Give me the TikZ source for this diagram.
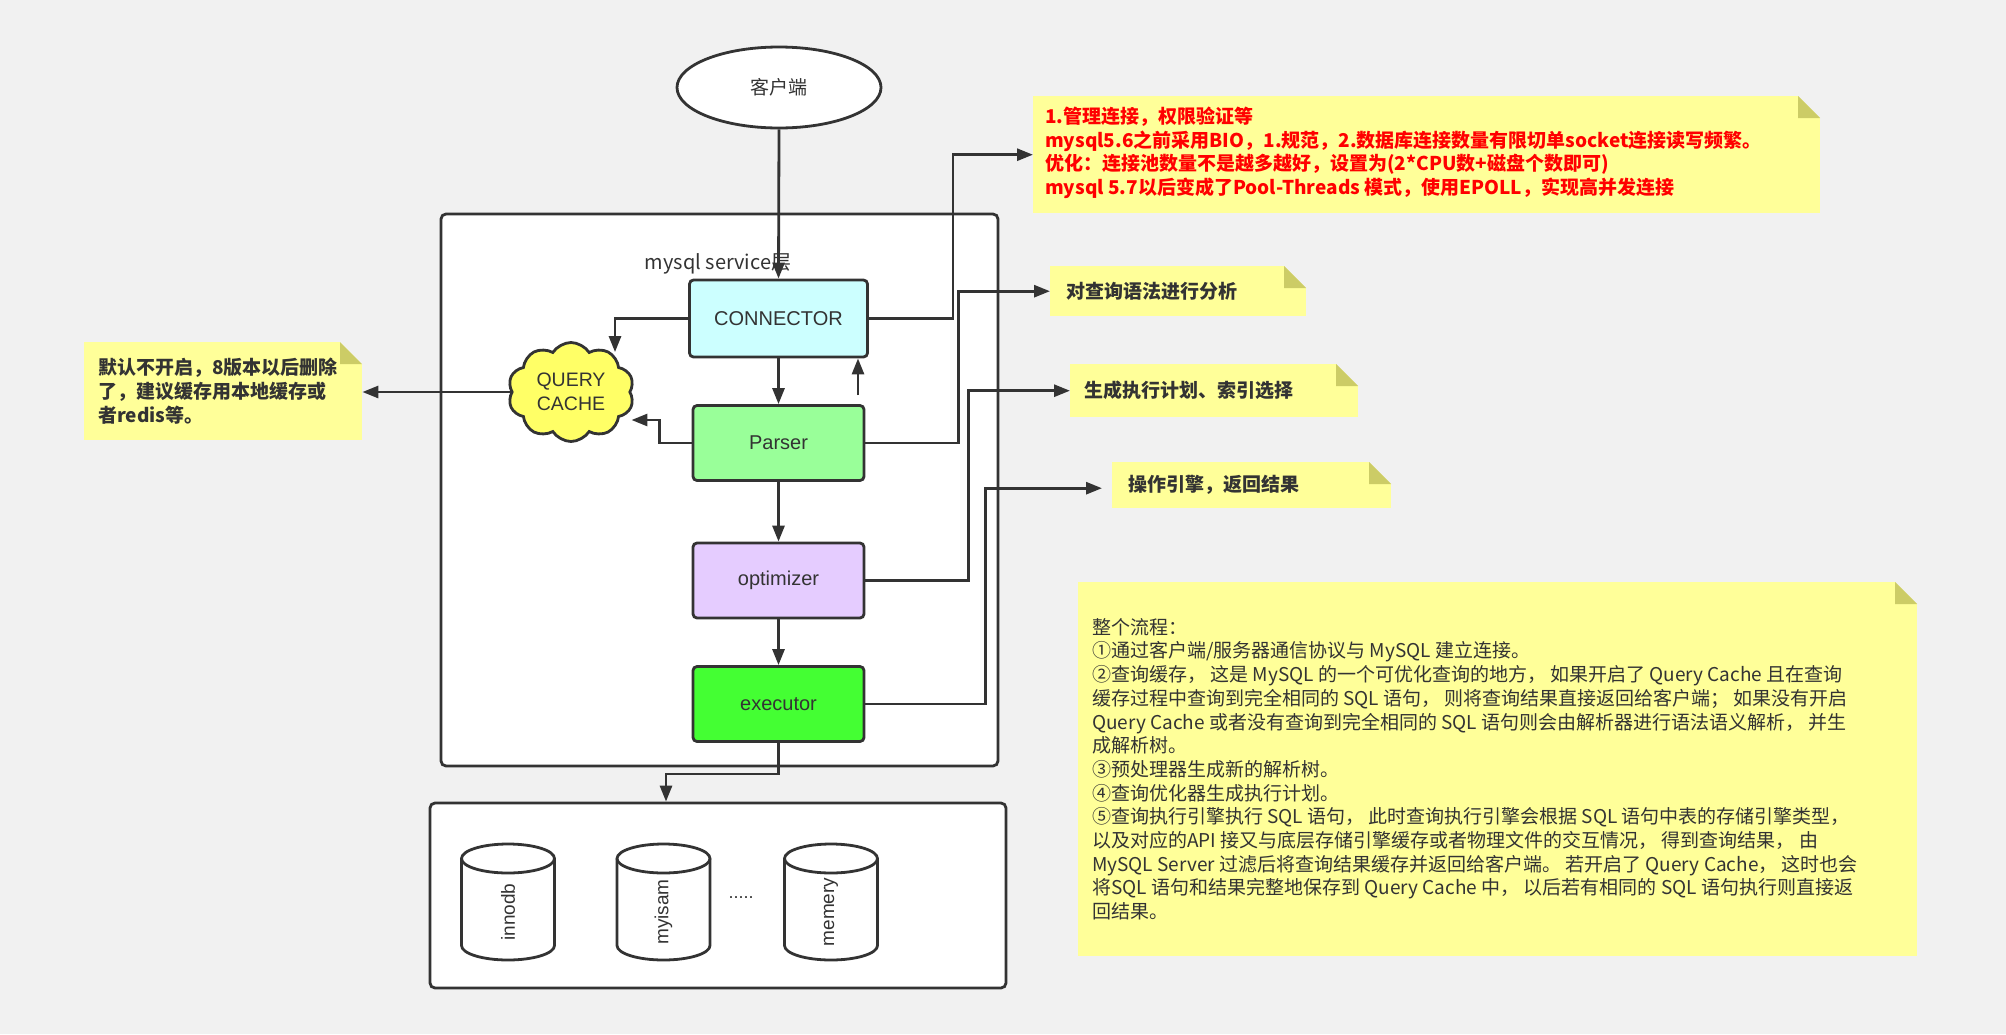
\documentclass[tikz,border=0pt]{standalone}
\usepackage{fontspec}
\setmainfont{Liberation Sans}
\newfontfamily\cjk{Noto Sans CJK SC}
\usetikzlibrary{arrows.meta,shapes.symbols,shapes.geometric,calc}
\definecolor{bgc}{HTML}{F1F1F1}
\definecolor{ink}{HTML}{333333}
\definecolor{noteY}{HTML}{FFFF99}
\definecolor{foldc}{HTML}{CCCC66}
\definecolor{connc}{HTML}{CCFFFF}
\definecolor{parsc}{HTML}{99FF99}
\definecolor{optc}{HTML}{E5CCFF}
\definecolor{execc}{HTML}{44FF33}
\definecolor{cloudc}{HTML}{FFFF66}
\definecolor{redt}{HTML}{FF0000}
\tikzset{
  box/.style={draw=ink, line width=2.8pt, rounded corners=4pt, minimum width=171pt, minimum height=75pt, font=\fontsize{20}{24}\selectfont, text=ink, inner sep=0pt},
  frame/.style={draw=ink, line width=2.8pt, rounded corners=5pt, fill=white, inner sep=0pt},
  conn/.style={draw=ink, line width=2.8pt, -{Triangle[length=16pt,width=12pt]}},
  notebg/.style={fill=noteY, inner sep=0pt, anchor=north west, path picture={
    \fill[bgc] ([xshift=-22pt]path picture bounding box.north east) -- (path picture bounding box.north east) -- ([yshift=-22pt]path picture bounding box.north east) -- cycle;
    \fill[foldc] ([xshift=-22pt]path picture bounding box.north east) -- ([xshift=-22pt,yshift=-22pt]path picture bounding box.north east) -- ([yshift=-22pt]path picture bounding box.north east) -- cycle;}},
  notetext/.style={anchor=west, align=left, inner sep=0pt, text=ink, font=\cjk\fontsize{19}{23.7}\selectfont},
  boldnote/.style={notetext, font=\cjk\bfseries\fontsize{19}{23.7}\selectfont},
  cyl/.style={draw=ink, line width=2.8pt, fill=white},
  cyltext/.style={rotate=90, text=ink, font=\fontsize{19}{22}\selectfont, inner sep=0pt}
}
\begin{document}
\begin{tikzpicture}[x=1pt,y=-1pt]
\fill[bgc] (0,0) rectangle (2006,1034);
\useasboundingbox (0,0) rectangle (2006,1034);

% frames
\node[frame, minimum width=557pt, minimum height=552pt] (svc) at (719.5,490) {};
\node[frame, minimum width=576pt, minimum height=185pt] (storage) at (718,895.5) {};
\node[text=ink, font=\cjk\fontsize{20}{24}\selectfont, inner sep=0pt] (svclabel) at (718,264) {mysql service层};

% client
\node[ellipse, draw=ink, line width=2.8pt, fill=white, minimum width=204pt, minimum height=81pt, text=ink, font=\cjk\fontsize{19}{22}\selectfont] (client) at (779,87.5) {客户端};

% processing boxes
\node[box, fill=connc, minimum width=178pt, minimum height=77pt] (connector) at (778.5,318.5) {CONNECTOR};
\node[box, fill=parsc] (parser) at (778.5,443) {Parser};
\node[box, fill=optc] (optimizer) at (778.5,580.5) {optimizer};
\node[box, fill=execc] (executor) at (778.5,704) {executor};

% cloud
\node[cloud, draw=ink, line width=2.8pt, fill=cloudc, cloud puffs=10, cloud puff arc=115, aspect=1.25, minimum width=126pt, minimum height=99pt, align=center, inner sep=0pt, text=ink, font=\fontsize{19.5}{24}\selectfont] (cache) at (571,392) {QUERY\\CACHE};

% notes
\node[notebg, minimum width=787pt, minimum height=117pt] (rednote) at (1033,96) {};
\node[boldnote, text=redt] (rednotet) at ([xshift=12pt,yshift=2pt]rednote.west) {1.管理连接，权限验证等\\mysql5.6之前采用BIO，1.规范，2.数据库连接数量有限切单socket连接读写频繁。\\优化：连接池数量不是越多越好，设置为(2*CPU数+磁盘个数即可)\\mysql 5.7以后变成了Pool-Threads 模式，使用EPOLL，实现高并发连接};

\node[notebg, minimum width=278pt, minimum height=98pt] (leftnote) at (84,342) {};
\node[boldnote] (leftnotet) at ([xshift=14pt]leftnote.west) {默认不开启，8版本以后删除\\了，建议缓存用本地缓存或\\者redis等。};

\node[notebg, minimum width=256pt, minimum height=50pt] (note2) at (1050,266) {};
\node[boldnote] (note2t) at ([xshift=16pt]note2.west) {对查询语法进行分析};

\node[notebg, minimum width=288pt, minimum height=53pt] (note3) at (1070,364) {};
\node[boldnote] (note3t) at ([xshift=14pt]note3.west) {生成执行计划、索引选择};

\node[notebg, minimum width=279pt, minimum height=46pt] (note4) at (1112,462) {};
\node[boldnote] (note4t) at ([xshift=16pt]note4.west) {操作引擎，返回结果};

\node[notebg, minimum width=839pt, minimum height=374pt] (bignote) at (1078,582) {};
\node[notetext] (bignotet) at ([xshift=14pt]bignote.west) {整个流程：\\①通过客户端/服务器通信协议与 MySQL 建立连接。\\②查询缓存， 这是 MySQL 的一个可优化查询的地方， 如果开启了 Query Cache 且在查询\\缓存过程中查询到完全相同的 SQL 语句， 则将查询结果直接返回给客户端； 如果没有开启\\Query Cache 或者没有查询到完全相同的 SQL 语句则会由解析器进行语法语义解析， 并生\\成解析树。\\③预处理器生成新的解析树。\\④查询优化器生成执行计划。\\⑤查询执行引擎执行 SQL 语句， 此时查询执行引擎会根据 SQL 语句中表的存储引擎类型，\\以及对应的API 接又与底层存储引擎缓存或者物理文件的交互情况， 得到查询结果， 由\\MySQL Server 过滤后将查询结果缓存并返回给客户端。 若开启了 Query Cache， 这时也会\\将SQL 语句和结果完整地保存到 Query Cache 中， 以后若有相同的 SQL 语句执行则直接返\\回结果。};

% cylinders
\foreach \nm/\cx in {innodb/508, myisam/663.5, memery/831}{
  \fill[white] (\cx-46.5,858.5) -- (\cx-46.5,945.5) arc[start angle=180, end angle=0, x radius=46.5, y radius=14.5] -- (\cx+46.5,858.5) -- cycle;
  \draw[cyl] (\cx-46.5,858.5) -- (\cx-46.5,945.5) arc[start angle=180, end angle=0, x radius=46.5, y radius=14.5] -- (\cx+46.5,858.5);
  \draw[cyl] (\cx,858.5) ellipse[x radius=46.5, y radius=14.5];
  \node[cyltext] (\nm) at (\cx,912) {\nm};
}
\node[text=ink, font=\fontsize{18}{22}\selectfont, inner sep=0pt] (dots) at (741,898) {.....};

% connectors
\draw[conn] (client.south) -- (connector.north);
\draw[conn] (connector.south) -- (parser.north);
\draw[conn] (parser.south) -- (optimizer.north);
\draw[conn] (optimizer.south) -- (executor.north);
\coordinate (upfrom) at (858,395);
\draw[conn] (upfrom) -- (upfrom |- connector.south);
\draw[conn] (connector.west) -| ([xshift=44pt,yshift=-11pt]cache.north);
\draw[conn] (parser.west) -- ++(-32,0) |- ([yshift=-28pt]cache.east);
\draw[conn] (cache.west) -- (cache.west -| leftnote.east);
\draw[conn] (connector.east) -- ++(84,0) |- (rednote.west);
\draw[conn] (parser.east) -- ++(93,0) |- (note2.west);
\draw[conn] (optimizer.east) -- ++(103,0) |- (note3.west);
\draw[conn] (executor.east) -- ++(120,0) |- ([xshift=-10pt,yshift=-3pt]note4.west);
\draw[conn] (executor.south) -- ++(0,31) -| ([xshift=-52pt]storage.north);
\end{tikzpicture}
\end{document}
